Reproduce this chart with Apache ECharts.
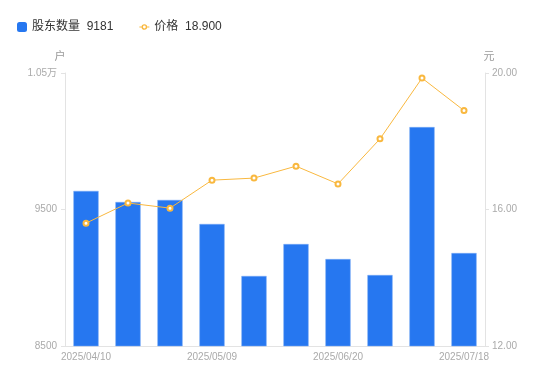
<!DOCTYPE html>
<html><head><meta charset="utf-8">
<script src="https://cdn.jsdelivr.net/npm/echarts@6/dist/echarts.min.js"></script>
<style>html,body{margin:0;padding:0;background:#fff}#c{width:550px;height:381px}</style>
</head><body><div id="c"></div>
<script>
const categories = ['2025/04/10','2025/04/18','2025/04/30','2025/05/09','2025/05/20','2025/05/30','2025/06/20','2025/06/30','2025/07/10','2025/07/18'];
const holders = [9636, 9555, 9570, 9394, 9013, 9247, 9137, 9020, 10104, 9181];
const prices = [15.60, 16.19, 16.04, 16.86, 16.92, 17.27, 16.75, 18.07, 19.85, 18.90];
const leftTicks = [8500, 9500, 10500];
const rightTicks = [12, 16, 20];

const chart = echarts.init(document.getElementById('c'));
const font = '"Liberation Sans", "Noto Sans CJK SC", sans-serif';
const lineIcon = 'path://M0,4.5L2.2,4.5L2.2,5.5L0,5.5Z M7.8,4.5L10,4.5L10,5.5L7.8,5.5Z M5,2.2A2.8,2.8 0 1 1 4.99,2.2Z M5,3.6A1.4,1.4 0 1 0 5.01,3.6Z';
chart.setOption({
  animation: false,
  textStyle: {fontFamily: font},
  legend: {
    left: 12, top: 16, itemWidth: 10, itemHeight: 10, itemGap: 26,
    textStyle: {color: '#333', fontSize: 12, fontFamily: font},
    formatter: function (name) {
      if (name === '股东数量') return name + '  ' + holders[holders.length - 1];
      return name + '  ' + prices[prices.length - 1].toFixed(3);
    },
    data: [{name: '股东数量', icon: 'roundRect', itemStyle: {color: '#2677f0', borderWidth: 0}},
           {name: '价格', icon: lineIcon, itemStyle: {color: '#f9b83f', borderWidth: 0}}]
  },
  grid: {left: 65, right: 65, top: 73, bottom: 35},
  xAxis: {
    type: 'category', data: categories,
    axisLine: {lineStyle: {color: '#e3e3e3'}},
    axisTick: {show: false},
    axisLabel: {color: '#aaa', fontSize: 10, interval: 2, margin: 6}
  },
  yAxis: [{
    type: 'value', name: '户', min: leftTicks[0], max: leftTicks[2], interval: 1000,
    nameTextStyle: {color: '#999', fontSize: 11, padding: [0, 10, 0, 0]}, nameGap: 11,
    axisLine: {show: true, lineStyle: {color: '#e3e3e3'}},
    axisTick: {show: true, length: 4, lineStyle: {color: '#e3e3e3'}},
    splitLine: {show: false},
    axisLabel: {color: '#aaa', fontSize: 10, margin: 8,
      formatter: v => v >= 10000 ? (v / 10000) + '万' : String(v)}
  }, {
    type: 'value', name: '元', min: rightTicks[0], max: rightTicks[2], interval: 4,
    nameTextStyle: {color: '#999', fontSize: 11, padding: [0, 0, 0, 8]}, nameGap: 11,
    axisLine: {show: true, lineStyle: {color: '#e3e3e3'}},
    axisTick: {show: true, length: 4, lineStyle: {color: '#e3e3e3'}},
    splitLine: {show: false},
    axisLabel: {color: '#aaa', fontSize: 10, margin: 7, formatter: v => v.toFixed(2)}
  }],
  series: [{
    name: '股东数量', type: 'bar', data: holders, barWidth: '60%',
    itemStyle: {color: '#2677f0', borderColor: '#7aaaf5', borderWidth: 0.5}
  }, {
    name: '价格', type: 'line', yAxisIndex: 1, data: prices,
    symbol: 'emptyCircle', symbolSize: 5,
    lineStyle: {color: '#f9b83f', width: 1},
    itemStyle: {color: '#f9b83f', borderWidth: 2}
  }]
});
</script></body></html>
